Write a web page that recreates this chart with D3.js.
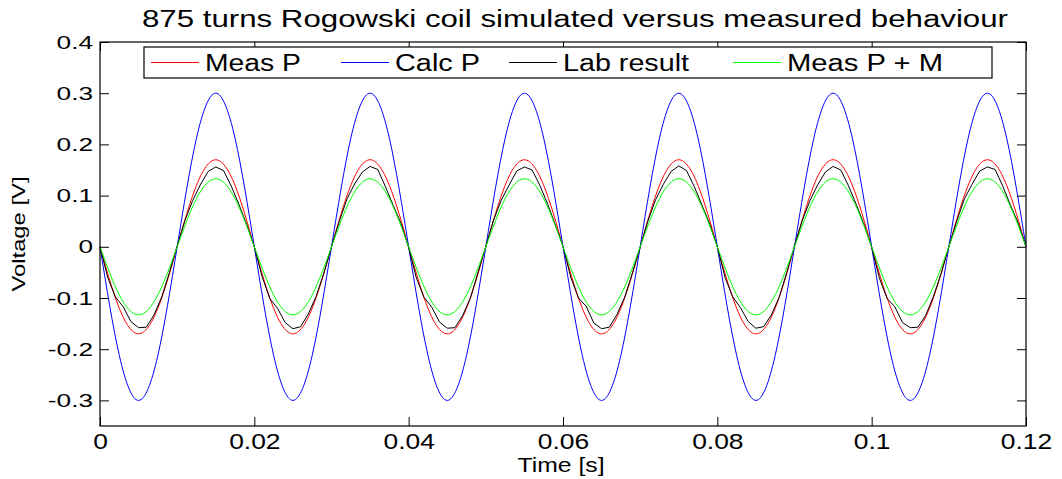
<!DOCTYPE html>
<html>
<head>
<meta charset="utf-8">
<script src="https://cdn.jsdelivr.net/npm/d3@7"></script>
<style>
  body { margin: 0; background: #fff; }
  text { font-family: 'Liberation Sans', Arial, sans-serif; fill: #000; }
</style>
</head>
<body>
<script>
// sample spacing of the series (seconds)
const smoothStep = 0.0025;
const labStep = 0.001;

// Meas P, read every 2.5 ms
const measP = [
  0, -0.120, -0.170, -0.120, 0, 0.120, 0.170, 0.120,
  0, -0.120, -0.170, -0.120, 0, 0.120, 0.170, 0.120,
  0, -0.120, -0.170, -0.120, 0, 0.120, 0.170, 0.120,
  0, -0.120, -0.170, -0.120, 0, 0.120, 0.170, 0.120,
  0, -0.120, -0.170, -0.120, 0, 0.120, 0.170, 0.120,
  0, -0.120, -0.170, -0.120, 0, 0.120, 0.170, 0.120,
  0
];

// Calc P, read every 2.5 ms
const calcP = [
  0, -0.212, -0.300, -0.212, 0, 0.212, 0.300, 0.212,
  0, -0.212, -0.300, -0.212, 0, 0.212, 0.300, 0.212,
  0, -0.212, -0.300, -0.212, 0, 0.212, 0.300, 0.212,
  0, -0.212, -0.300, -0.212, 0, 0.212, 0.300, 0.212,
  0, -0.212, -0.300, -0.212, 0, 0.212, 0.300, 0.212,
  0, -0.212, -0.300, -0.212, 0, 0.212, 0.300, 0.212,
  0
];

// Meas P + M, read every 2.5 ms
const measPM = [
  0, -0.094, -0.133, -0.094, 0, 0.094, 0.133, 0.094,
  0, -0.094, -0.133, -0.094, 0, 0.094, 0.133, 0.094,
  0, -0.094, -0.133, -0.094, 0, 0.094, 0.133, 0.094,
  0, -0.094, -0.133, -0.094, 0, 0.094, 0.133, 0.094,
  0, -0.094, -0.133, -0.094, 0, 0.094, 0.133, 0.094,
  0, -0.094, -0.133, -0.094, 0, 0.094, 0.133, 0.094,
  0
];

// Lab result, read every 1 ms
const labResult = [
  0.000, -0.060, -0.098, -0.117, -0.146, -0.158, -0.157, -0.133, -0.098, -0.050,
  0.002, 0.051, 0.090, 0.121, 0.147, 0.156, 0.149, 0.119, 0.083, 0.044,
  0.000, -0.058, -0.101, -0.120, -0.148, -0.160, -0.156, -0.131, -0.097, -0.052,
  0.000, 0.049, 0.093, 0.123, 0.146, 0.157, 0.151, 0.117, 0.081, 0.046,
  -0.002, -0.061, -0.099, -0.118, -0.147, -0.159, -0.158, -0.134, -0.100, -0.049,
  0.001, 0.052, 0.091, 0.120, 0.148, 0.156, 0.150, 0.120, 0.084, 0.043,
  0.001, -0.059, -0.100, -0.116, -0.149, -0.160, -0.157, -0.132, -0.098, -0.051,
  -0.001, 0.050, 0.092, 0.122, 0.147, 0.158, 0.149, 0.118, 0.082, 0.045,
  0.000, -0.060, -0.098, -0.119, -0.146, -0.159, -0.156, -0.133, -0.099, -0.050,
  0.002, 0.051, 0.090, 0.121, 0.146, 0.157, 0.150, 0.119, 0.083, 0.044,
  -0.001, -0.061, -0.101, -0.117, -0.148, -0.158, -0.157, -0.134, -0.097, -0.052,
  0.000, 0.049, 0.093, 0.122, 0.148, 0.156, 0.151, 0.118, 0.081, 0.046,
  0.000
];

const xTicks = [0, 0.02, 0.04, 0.06, 0.08, 0.1, 0.12];
const yTicks = [-0.3, -0.2, -0.1, 0, 0.1, 0.2, 0.3, 0.4];
const legendNames = ['Meas P', 'Calc P', 'Lab result', 'Meas P + M'];
const colors = ['#ff0000', '#0000ff', '#000000', '#00ff00'];

const title = '875 turns Rogowski coil simulated versus measured behaviour';
const xTitle = 'Time [s]';
const yTitle = 'Voltage [V]';

let dim = { width: 1062, height: 479 };
let plot = { left: 100, right: 1026, top: 42, bottom: 426 };

let svg = d3.select('body').append('svg').attr('width', dim.width).attr('height', dim.height);

let scaleX = d3.scaleLinear([0, 0.12], [plot.left, plot.right]);
let scaleY = d3.scaleLinear([-0.35, 0.4], [plot.bottom, plot.top]);

// widen text like the matlab export does
function stretch(sel, k) {
  sel.each(function () {
    let w = this.getComputedTextLength();
    d3.select(this).attr('textLength', w * k).attr('lengthAdjust', 'spacingAndGlyphs');
  });
}

svg.append('rect')
  .attr('x', plot.left).attr('y', plot.top)
  .attr('width', plot.right - plot.left).attr('height', plot.bottom - plot.top)
  .attr('fill', '#fff');

// series
let series = [
  { vals: measP, step: smoothStep, curve: d3.curveNatural },
  { vals: calcP, step: smoothStep, curve: d3.curveNatural },
  { vals: labResult, step: labStep, curve: d3.curveLinear },
  { vals: measPM, step: smoothStep, curve: d3.curveNatural },
];

series.forEach((s, i) => {
  let line = d3.line()
    .curve(s.curve)
    .x((d, j) => scaleX(j * s.step))
    .y((d) => scaleY(d));
  svg.append('path')
    .datum(s.vals)
    .attr('d', line)
    .attr('fill', 'none')
    .attr('stroke', colors[i])
    .attr('stroke-width', 1);
});

// axes with inward ticks
let fmt = (d) => String(+d.toFixed(2));

let xAxis = svg.append('g')
  .attr('transform', `translate(0,${plot.bottom})`)
  .call(d3.axisBottom(scaleX).tickValues(xTicks).tickFormat(fmt).tickSize(-9).tickSizeOuter(0).tickPadding(7));
let yAxis = svg.append('g')
  .attr('transform', `translate(${plot.left},0)`)
  .call(d3.axisLeft(scaleY).tickValues(yTicks).tickFormat(fmt).tickSize(-9).tickSizeOuter(0).tickPadding(7));
svg.append('g')
  .attr('transform', `translate(0,${plot.top})`)
  .call(d3.axisTop(scaleX).tickValues(xTicks).tickFormat('').tickSize(-9).tickSizeOuter(0));
svg.append('g')
  .attr('transform', `translate(${plot.right},0)`)
  .call(d3.axisRight(scaleY).tickValues(yTicks).tickFormat('').tickSize(-9).tickSizeOuter(0));

svg.selectAll('.domain').remove();
svg.selectAll('.tick line').attr('stroke', '#000');

xAxis.selectAll('text').style('font-size', '22px').attr('fill', '#000');
stretch(xAxis.selectAll('text'), 1.2);
yAxis.selectAll('text').style('font-size', '19px').attr('fill', '#000');
stretch(yAxis.selectAll('text'), 1.38);

svg.append('rect')
  .attr('x', plot.left).attr('y', plot.top)
  .attr('width', plot.right - plot.left).attr('height', plot.bottom - plot.top)
  .attr('fill', 'none').attr('stroke', '#000').attr('stroke-width', 1.2);

// title and axis labels
svg.append('text')
  .attr('x', 575).attr('y', 27)
  .attr('text-anchor', 'middle')
  .style('font-size', '23.5px')
  .attr('textLength', 866).attr('lengthAdjust', 'spacingAndGlyphs')
  .text(title);

svg.append('text')
  .attr('x', 561).attr('y', 472)
  .attr('text-anchor', 'middle')
  .style('font-size', '21px')
  .attr('textLength', 87).attr('lengthAdjust', 'spacingAndGlyphs')
  .text(xTitle);

svg.append('text')
  .attr('transform', `translate(25,${(plot.top + plot.bottom) / 2}) rotate(-90)`)
  .attr('text-anchor', 'middle')
  .style('font-size', '18px')
  .attr('textLength', 115).attr('lengthAdjust', 'spacingAndGlyphs')
  .text(yTitle);

// legend
let legendBox = { x: 144, y: 47, w: 848, h: 31 };
let legendLineX = [151, 341, 509, 733];
let legendWidths = [96, 85, 126, 156];

svg.append('rect')
  .attr('x', legendBox.x).attr('y', legendBox.y)
  .attr('width', legendBox.w).attr('height', legendBox.h)
  .attr('fill', '#fff').attr('stroke', '#000').attr('stroke-width', 1.2);

legendNames.forEach((name, i) => {
  let cy = legendBox.y + legendBox.h / 2;
  svg.append('line')
    .attr('x1', legendLineX[i]).attr('x2', legendLineX[i] + 48)
    .attr('y1', cy).attr('y2', cy)
    .attr('stroke', colors[i]).attr('stroke-width', 1);
  svg.append('text')
    .attr('x', legendLineX[i] + 54).attr('y', 71)
    .style('font-size', '23.5px')
    .attr('textLength', legendWidths[i]).attr('lengthAdjust', 'spacingAndGlyphs')
    .text(name);
});
</script>
</body>
</html>
